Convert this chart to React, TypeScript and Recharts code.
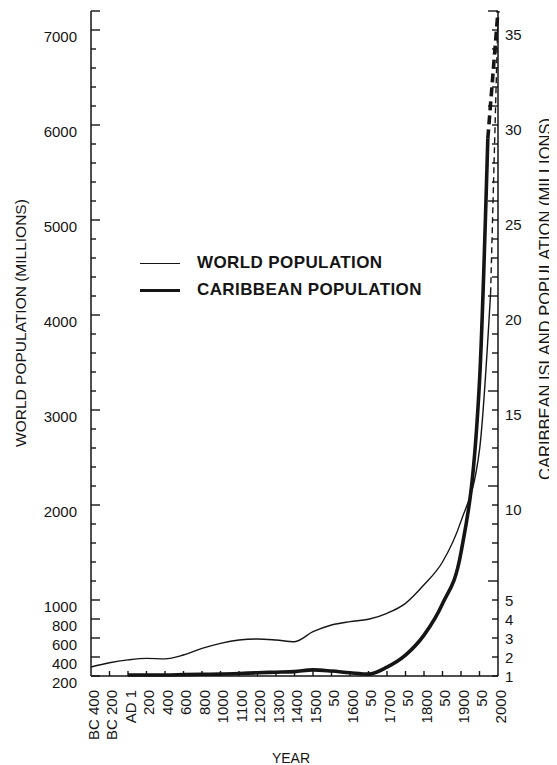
import React from 'react';
import { LineChart, Line, XAxis, YAxis } from 'recharts';

// x categories, evenly spaced along the axis
const yearLabels = [
  'BC 400', 'BC 200', 'AD 1', '200', '400', '600', '800', '1000', '1100', '1200', '1300',
  '1400', '1500', '50', '1600', '50', '1700', '50', '1800', '50', '1900', '50', '2000',
];
const xPositions = [0, 1, 2, 3, 4, 5, 6, 7, 8, 9, 10, 11, 12, 13, 14, 15, 16, 17, 18, 19, 20, 21, 22];

// world population, millions (left axis), one value per category up to 1950
const worldValues = [295, 340, 370, 386, 380, 421, 490, 544, 579, 590, 579, 561, 666, 737, 772, 797, 860, 965, 1160, 1400, 1830, 2580];
// late solid end and dashed projection to 2000
const worldLatePos = [21.6, 22];
const worldLateValues = [4230, 7150];

// caribbean population, millions (right axis), starts at AD 1
const caribStart = 2;
const caribValues = [1.05, 1.05, 1.05, 1.07, 1.09, 1.1, 1.13, 1.17, 1.2, 1.23, 1.32, 1.26, 1.17, 1.1, 1.47, 2.1, 3.15, 4.8, 7.5, 16.5];
const caribLatePos = [21.45, 22];
const caribLateValues = [29.3, 36];

const leftLabels = [200, 400, 600, 800, 1000, 2000, 3000, 4000, 5000, 6000, 7000];
const rightLabels = [1, 2, 3, 4, 5, 10, 15, 20, 25, 30, 35];
const rightLong = [6, 11, 16, 21, 26, 31, 36];

const leftTicks: number[] = [];
for (let v = 200; v <= 7200; v += 200) leftTicks.push(v);
const rightTicks: number[] = [];
for (let v = 1; v <= 36; v++) rightTicks.push(v);

const worldSolid = worldValues.map((v, i) => ({ pos: xPositions[i], v })).concat([{ pos: worldLatePos[0], v: worldLateValues[0] }]);
const worldDash = worldLatePos.map((p, i) => ({ pos: p, v: worldLateValues[i] }));
const caribSolid = caribValues.map((v, i) => ({ pos: xPositions[caribStart + i], v })).concat([{ pos: caribLatePos[0], v: caribLateValues[0] }]);
const caribDash = caribLatePos.map((p, i) => ({ pos: p, v: caribLateValues[i] }));

const ink = '#151515';
const font = '"Liberation Sans", Arial, Helvetica, sans-serif';

const LeftTick = (props: any) => {
  const { x, y, payload } = props;
  const v = payload.value;
  const labelled = leftLabels.includes(v);
  const len = labelled || v === 7200 ? 9 : 5;
  return (
    <g>
      <line x1={x} y1={y} x2={x + len} y2={y} stroke={ink} strokeWidth={1.4} />
      {labelled && (
        <text x={x - 14} y={y + 6} textAnchor="end" dominantBaseline="central" fontSize={15} fontFamily={font} fill={ink}>
          {v}
        </text>
      )}
    </g>
  );
};

const RightTick = (props: any) => {
  const { x, y, payload } = props;
  const v = payload.value;
  const len = rightLong.includes(v) ? 10 : 6;
  const labelled = rightLabels.includes(v);
  return (
    <g>
      <line x1={x} y1={y} x2={x - len} y2={y} stroke={ink} strokeWidth={1.4} />
      {labelled && (
        <text x={x + 7} y={v <= 5 ? y : y + 4} textAnchor="start" dominantBaseline="central" fontSize={15} fontFamily={font} fill={ink}>
          {v}
        </text>
      )}
    </g>
  );
};

const XTick = (props: any) => {
  const { x, y, payload } = props;
  const i = payload.value;
  const tx = x + 2;
  const ty = y + 14;
  return (
    <g>
      {i > 0 && i < 22 && <line x1={x} y1={y} x2={x} y2={y - 5} stroke={ink} strokeWidth={1.4} />}
      <text x={tx} y={ty} transform={`rotate(-90, ${tx}, ${ty})`} textAnchor="end" dominantBaseline="central" fontSize={15} fontFamily={font} fill={ink}>
        {yearLabels[i]}
      </text>
    </g>
  );
};

const axisStyle = { stroke: ink, strokeWidth: 1.5 };

export default function App() {
  return (
    <div style={{ position: 'relative', width: 549, height: 757, fontFamily: font, color: ink, background: '#fff' }}>
      <LineChart width={549} height={757} margin={{ top: 3, right: 0, bottom: 0, left: 0 }}>
        <XAxis
          type="number"
          dataKey="pos"
          domain={[0, 22]}
          ticks={xPositions}
          interval={0}
          height={89}
          tickSize={0}
          tickMargin={0}
          tick={<XTick />}
          axisLine={axisStyle}
          tickLine={false}
        />
        <YAxis
          yAxisId="left"
          type="number"
          domain={[200, 7200]}
          ticks={leftTicks}
          interval={0}
          width={83}
          tickSize={0}
          tickMargin={0}
          tick={<LeftTick />}
          axisLine={axisStyle}
          tickLine={false}
        />
        <YAxis
          yAxisId="right"
          orientation="right"
          type="number"
          domain={[1, 36]}
          ticks={rightTicks}
          interval={0}
          width={59}
          tickSize={0}
          tickMargin={0}
          tick={<RightTick />}
          axisLine={axisStyle}
          tickLine={false}
        />
        <Line yAxisId="left" data={worldSolid} dataKey="v" type="monotone" stroke={ink} strokeWidth={1.4} dot={false} isAnimationActive={false} />
        <Line yAxisId="left" data={worldDash} dataKey="v" type="linear" stroke={ink} strokeWidth={1.4} strokeDasharray="6 4" dot={false} isAnimationActive={false} />
        <Line yAxisId="right" data={caribSolid} dataKey="v" type="monotone" stroke={ink} strokeWidth={3.6} dot={false} isAnimationActive={false} />
        <Line yAxisId="right" data={caribDash} dataKey="v" type="linear" stroke={ink} strokeWidth={3.6} strokeDasharray="9 5" dot={false} isAnimationActive={false} />
      </LineChart>

      <div style={{ position: 'absolute', left: 13, top: 315, transform: 'translate(-50%, -50%) rotate(-90deg)', whiteSpace: 'nowrap', fontSize: 15.5, lineHeight: 1 }}>
        WORLD POPULATION (MILLIONS)
      </div>
      <div style={{ position: 'absolute', right: 4, top: 102, width: 16, height: 377 }}>
        <div style={{ position: 'absolute', left: '50%', top: '50%', transform: 'translate(-50%, -50%) rotate(-90deg)', whiteSpace: 'nowrap', fontSize: 16.5, lineHeight: 1 }}>
          CARIBBEAN ISLAND POPULATION (MILLIONS)
        </div>
      </div>
      <div style={{ position: 'absolute', left: 283, top: 750, transform: 'translate(-50%, -50%)', whiteSpace: 'nowrap', fontSize: 14, lineHeight: 1 }}>
        YEAR
      </div>

      <div style={{ position: 'absolute', left: 132, top: 243, fontWeight: 700, fontSize: 17, letterSpacing: 0.4 }}>
        <div style={{ display: 'flex', alignItems: 'center', height: 24 }}>
          <div style={{ width: 40, borderTop: `1.4px solid ${ink}`, marginRight: 17 }} />
          <span>WORLD POPULATION</span>
        </div>
        <div style={{ display: 'flex', alignItems: 'center', height: 30 }}>
          <div style={{ width: 40, borderTop: `3.6px solid ${ink}`, marginRight: 17 }} />
          <span>CARIBBEAN POPULATION</span>
        </div>
      </div>
    </div>
  );
}
